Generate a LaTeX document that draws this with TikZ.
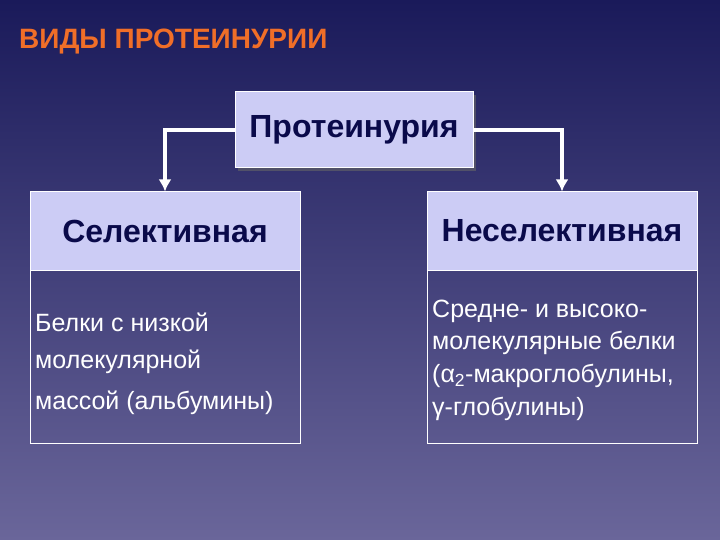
\documentclass[tikz,border=0pt]{standalone}
\usepackage{fontspec}
\setmainfont{Liberation Sans}
\usetikzlibrary{arrows.meta}
\begin{document}
\begin{tikzpicture}[x=1pt,y=-1pt,
  hdr/.style={draw=white,line width=1pt,fill={rgb,255:red,204;green,204;blue,245},text={rgb,255:red,10;green,10;blue,74},font=\fontsize{32}{36}\selectfont\bfseries,inner sep=0pt},
  body/.style={draw=white,line width=0.8pt},
  arr/.style={draw=white,line width=4pt,-{Latex[length=12pt,width=13pt]}},
  wt/.style={text=white,font=\fontsize{25}{28}\selectfont,anchor=west,inner sep=0pt}]
\shade[top color={rgb,255:red,26;green,26;blue,90},bottom color={rgb,255:red,106;green,102;blue,154}] (0,0) rectangle (720,540);
\useasboundingbox (0,0) rectangle (720,540);
\node[anchor=west,inner sep=0pt,text={rgb,255:red,240;green,110;blue,40},font=\fontsize{28}{32}\selectfont\bfseries] (title) at (19,42) {ВИДЫ ПРОТЕИНУРИИ};
\fill[black!60,opacity=0.6] (238,95) rectangle (476,171);
\node[hdr,minimum width=238,minimum height=76] (top) at (354,130) {Протеинурия};
\node[hdr,minimum width=270,minimum height=78] (sel) at (165,231) {Селективная};
\node[hdr,minimum width=270,minimum height=78] (nsel) at (562,231) {Неселективная};
\draw[body] (30,270) rectangle (300,443);
\draw[body] (427,270) rectangle (697,443);
\coordinate (lc) at (165,130);
\coordinate (rc) at (562,130);
\draw[arr] (top.west) -- (lc) -- (sel.north);
\draw[arr] (top.east) -- (rc) -- (nsel.north);
\node[wt] (l1) at (35,322) {Белки с низкой};
\node[wt] (l2) at (35,362) {молекулярной};
\node[wt] (l3) at (35,403) {массой (альбумины)};
\node[wt] (r1) at (432,311) {Средне- и высоко-};
\node[wt] (r2) at (432,343) {молекулярные белки};
\node[wt] (r3) at (432,376) {(α\textsubscript{2}-макроглобулины,};
\node[wt] (r4) at (432,409) {γ-глобулины)};
\end{tikzpicture}
\end{document}
